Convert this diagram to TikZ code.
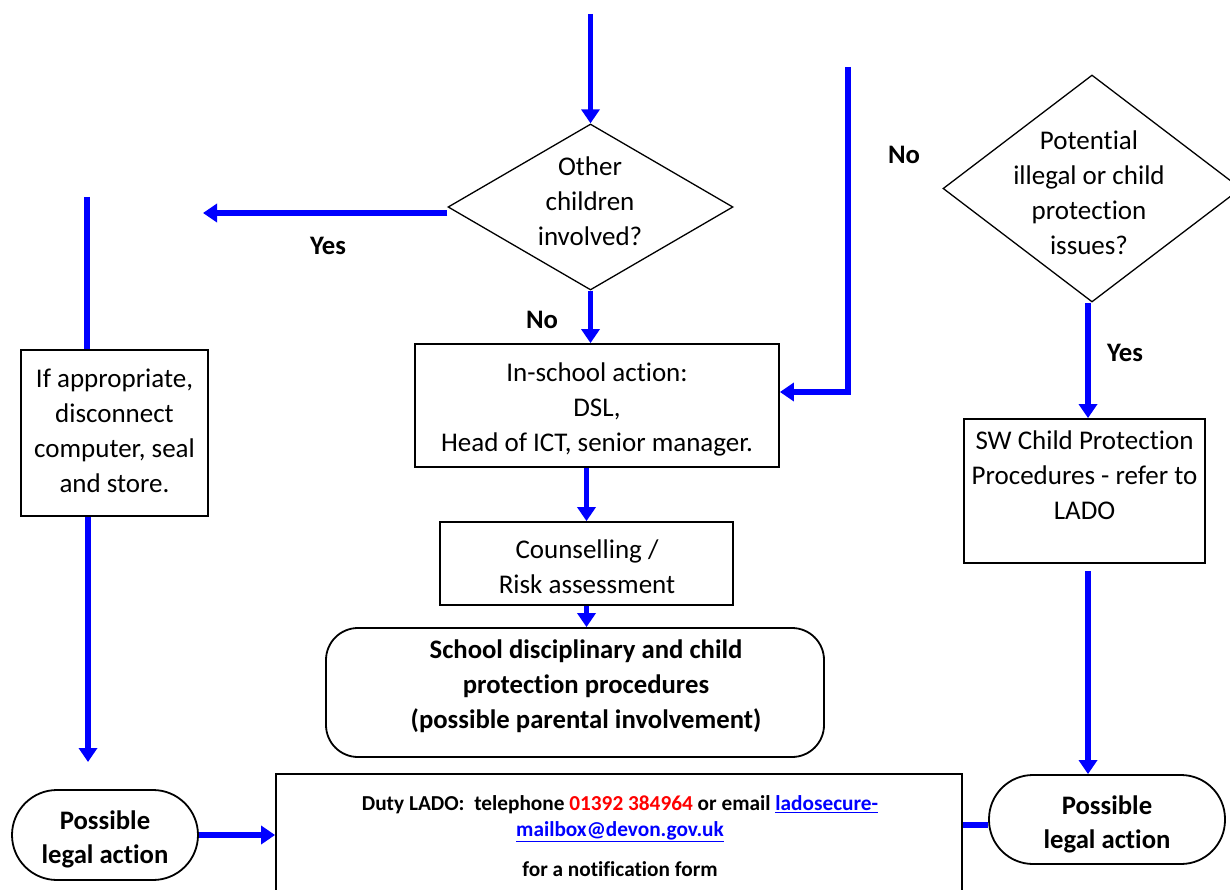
\documentclass[tikz,border=0pt]{standalone}
\usepackage{fontspec}
\setmainfont{Carlito}[Ligatures=NoCommon]
\usetikzlibrary{arrows.meta,shapes.geometric}
\begin{document}
\begin{tikzpicture}[x=1pt,y=-1pt,
  box/.style={draw=black,line width=1.8pt,inner sep=0pt,rectangle},
  rbox/.style={draw=black,line width=1.8pt,inner sep=0pt,rectangle,rounded corners=#1},
  diam/.style={draw=black,line width=1.3pt,diamond,inner sep=0pt},
  txt/.style={inner sep=0pt,align=center,font=\fontsize{27}{35}\selectfont},
  btxt/.style={inner sep=0pt,align=center,font=\fontsize{26.7}{34}\selectfont\bfseries},
  lbl/.style={inner sep=0pt,font=\fontsize{26.7}{34}\selectfont\bfseries},
  arr/.style={draw=blue,line width=5.5pt,-{Triangle[length=14pt,width=18pt]}},
  bline/.style={draw=blue,line width=5.5pt}]
\useasboundingbox (0,0) rectangle (1230,890);
\clip (0,0) rectangle (1230,890);

% shapes
\node[diam,minimum width=285pt,minimum height=166pt] (d1) at (590.5,207) {};
\node[txt] (d1t) at (590,201) {Other\\children\\involved?};

\node[diam,minimum width=298pt,minimum height=227pt] (d2) at (1092,188.5) {};
\node[txt] (d2t) at (1089,192.5) {Potential\\illegal or child\\protection\\issues?};

\node[box,minimum width=187pt,minimum height=166pt] (lbox) at (114.5,433) {};
\node[txt] (lboxt) at (114.5,431) {If appropriate,\\disconnect\\computer, seal\\and store.};

\node[box,minimum width=364pt,minimum height=123pt] (ins) at (597,405.5) {};
\node[txt] (inst) at (597,409) {In-school action:\\DSL,\\Head of ICT, senior manager.};

\node[box,minimum width=293pt,minimum height=83pt] (cou) at (586.5,563.5) {};
\node[txt] (cout) at (587,567) {Counselling /\\Risk assessment};

\node[rbox=32pt,minimum width=498pt,minimum height=129pt] (sch) at (575,692.5) {};
\node[btxt,font=\fontsize{26.7}{35}\selectfont\bfseries] (scht) at (586,686) {School disciplinary and child\\protection procedures\\(possible parental involvement)};

\node[box,minimum width=241pt,minimum height=144pt] (sw) at (1084.5,491) {};
\node[txt] (swt) at (1084.5,492.5) {SW Child Protection\\Procedures - refer to\\LADO\\~};

\node[rbox=45pt,minimum width=186pt,minimum height=90pt] (lpla) at (105,835) {};
\node[btxt] (lplat) at (105,839) {Possible\\legal action};

\node[rbox=44pt,minimum width=236pt,minimum height=89pt] (rpla) at (1107,819.5) {};
\node[btxt] (rplat) at (1107,824.5) {Possible\\legal action};

\node[box,minimum width=686pt,minimum height=126pt] (lado) at (619,837) {};
\node[inner sep=0pt,align=center,font=\fontsize{21.3}{26}\selectfont\bfseries] (ladot) at (620,836)
 {Duty LADO:~ telephone \textcolor{red}{01392 384964} or email \textcolor{blue}{\underline{ladosecure-}}\\
  \textcolor{blue}{\underline{mailbox@devon.gov.uk}}\\[14pt]
  for a notification form};

% labels
\node[lbl] (yesL) at (328,246) {Yes};
\node[lbl] (noA) at (542,320) {No};
\node[lbl] (noB) at (904,155) {No};
\node[lbl] (yesR) at (1125,353) {Yes};

% free ends
\coordinate (topstart) at (590.5,14);
\coordinate (yesend) at (203,213);
\coordinate (ltop) at (87,197);
\coordinate (lend) at (88,762);
\coordinate (rtop) at (848,67);
\coordinate (rcorner) at (848,392);
\coordinate (swout) at (1088,571);

% connectors
\draw[arr] (topstart) -- (d1.north);
\draw[arr] ([yshift=-6pt]d1.west) -- (yesend);
\draw[bline] (ltop) -- (ltop |- lbox.north);
\draw[arr] (lend |- lbox.south) -- (lend);
\draw[arr] (d1.south) -- (d1.south |- ins.north);
\draw[arr,line join=miter] (rtop) -- (rcorner) -- (rcorner -| ins.east);
\draw[arr] (cou.north |- ins.south) -- (cou.north);
\draw[arr] (cou.south) -- (cou.south |- sch.north);
\draw[arr] (swout |- d2.south) -- (swout |- sw.north);
\draw[arr] (swout) -- (swout |- rpla.north);
\draw[arr] (lpla.east) -- (lpla.east -| lado.west);
\draw[bline] ([yshift=-5.5pt]rpla.west) -- ([yshift=-5.5pt]rpla.west -| lado.east);
\end{tikzpicture}
\end{document}
